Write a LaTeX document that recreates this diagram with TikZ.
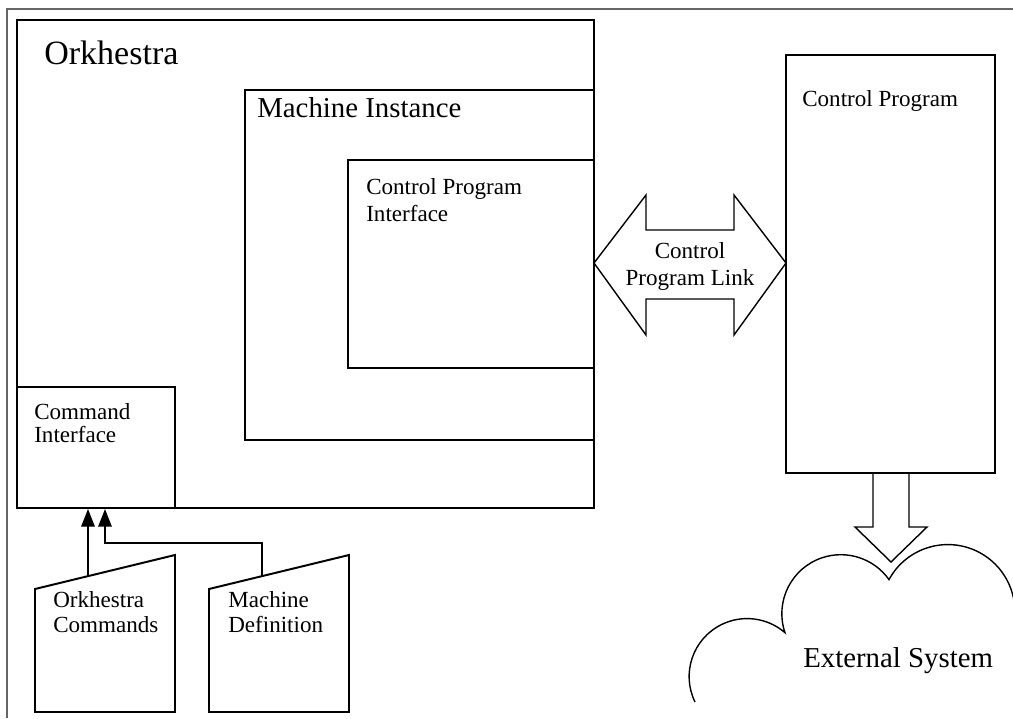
\documentclass[tikz,border=0pt]{standalone}
\usepackage{fontspec}
\setmainfont{Liberation Serif}
\usetikzlibrary{fit,arrows.meta}

\begin{document}
\begin{tikzpicture}[x=0.025cm,y=-0.025cm,
	box/.style={draw,line width=1.4pt,inner sep=0pt},
	outline/.style={line width=1pt,line join=miter},
	arr/.style={line width=1.3pt,-{Triangle[length=12.5pt,width=9.5pt]}},
	big/.style={font=\fontsize{24.2}{29}\selectfont,inner sep=0pt},
	mid/.style={font=\fontsize{20.5}{24.6}\selectfont,inner sep=0pt},
	small/.style={font=\fontsize{16.4}{19.2}\selectfont,inner sep=0pt,align=left},]

\useasboundingbox (0,0) rectangle (1013,718);
\draw[black!60,line width=0.8pt] (7,718) -- (7,9) -- (1013,9);

% boxes
\node[box,fit={(17,20) (594,508)}] (orkh) {};
\node[box,fit={(245,90) (594,440)}] (mach) {};
\node[box,fit={(348,160) (594,368)}] (cpi) {};
\node[box,fit={(17,387) (175,508)}] (cmdif) {};
\node[box,fit={(786,55) (995,473)}] (cprog) {};

\node[big,anchor=base west] (orkhtxt) at ([shift={(28,45)}]orkh.north west) {Orkhestra};
\node[mid,anchor=base west] (machtxt) at ([shift={(13,28)}]mach.north west) {Machine Instance};
\node[small,anchor=north west] (cpitxt) at ([shift={(19,19)}]cpi.north west) {Control Program\\Interface};
\node[small,anchor=north west] (cprogtxt) at ([shift={(17,36)}]cprog.north west) {Control Program};
\node[small,anchor=north west,font=\fontsize{16.4}{16.5}\selectfont] (cmdiftxt)
    at ([shift={(18,17)}]cmdif.north west) {Command\\Interface};

% link between interface and control program
\draw[outline] (594,263) -- (646,195) -- (646,230) -- (734,230) -- (734,195) -- (786,263)
    -- (734,335) -- (734,299) -- (646,299) -- (646,335) -- cycle;
\node[small,align=center,anchor=north] (link) at (690,242) {Control\\Program Link};

% control program to external system
\draw[outline] (873,474) -- (873,527) -- (855,527) -- (891,562) -- (927,527) -- (909,527) -- (909,474);
\draw[outline] (695,702) arc[start angle=154,end angle=310.7,radius=58]
    arc[start angle=161.3,end angle=324.7,radius=59]
    arc[start angle=208.5,end angle=365,radius=67];
\node[mid,anchor=base west] (ext) at (803,667) {External System};

% input documents
\draw[box] (35,712) -- (35,589) -- (175,555) -- (175,712) -- cycle;
\draw[box] (209,712) -- (209,589) -- (349,555) -- (349,712) -- cycle;
\node[small,anchor=north west,font=\fontsize{16.4}{17.8}\selectfont] (ocmdtxt) at (53,591) {Orkhestra\\Commands};
\node[small,anchor=north west,font=\fontsize{16.4}{17.8}\selectfont] (mdeftxt) at (228,591) {Machine\\Definition};

\coordinate (ocmd) at (88,576);
\coordinate (mdef) at (262,576);
\coordinate (bend) at (105,543);
\draw[arr] (ocmd) -- (ocmd |- cmdif.south);
\draw[arr] (mdef) |- (bend) -- (bend |- cmdif.south);
\end{tikzpicture}
\end{document}
